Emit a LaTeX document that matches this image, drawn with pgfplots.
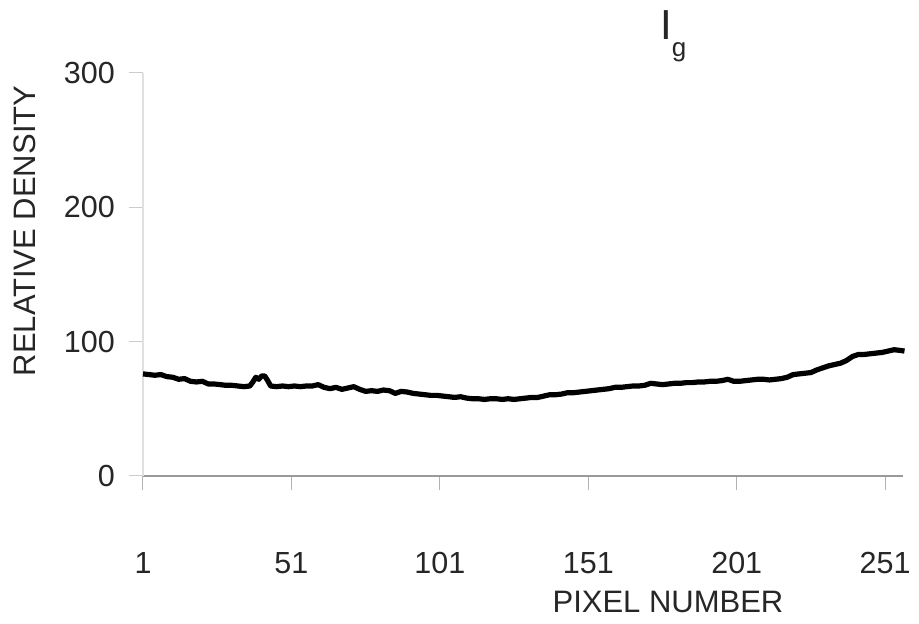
\documentclass[border=0pt]{standalone}
\usepackage{fontspec}
\setmainfont{Liberation Sans}
\usepackage{pgfplots}
\pgfplotsset{compat=1.18}
\pgfplotstableread{
x y
1 76
3 75.5
5 75
7 75.5
9 74
11 73.5
13 72
15 72.5
17 70.5
19 70
21 70.5
23 68.5
25 68.5
27 68
29 67.5
31 67.5
33 67
35 66.5
37 67
38 70
39 73.5
40 72
41 74.5
42 74.5
43 71
44 67
46 66.5
48 67
50 66.5
52 67
54 66.5
56 67
58 67
60 68
62 66
64 65
66 66
68 64.5
70 65.5
72 66.5
74 64.5
76 63
78 63.5
80 63
82 64
84 63.5
86 61.5
88 63
90 62.5
92 61.5
94 61
96 60.5
98 60
100 60
102 59.5
104 59
106 58.5
108 59
110 58
112 57.5
114 57.5
116 57
118 57.5
120 57.5
122 57
124 57.5
126 57
128 57.5
130 58
132 58.5
134 58.5
136 59.5
138 60.5
140 60.5
142 61
144 62
146 62
148 62.5
150 63
152 63.5
154 64
156 64.5
158 65
160 66
162 66
164 66.5
166 67
168 67
170 67.5
172 69
174 68.5
176 68
178 68.5
180 69
182 69
184 69.5
186 69.5
188 70
190 70
192 70.5
194 70.5
196 71
198 72
200 70.5
202 70.5
204 71
206 71.5
208 72
210 72
212 71.5
214 72
216 72.5
218 73.5
220 75.5
222 76
224 76.5
226 77
228 79
230 80.5
232 82
234 83
236 84
238 86
240 89
242 90.5
244 90.5
246 91
248 91.5
250 92
252 93
254 94
256 93.5
257.5 93
}\density
\begin{document}
\fontsize{30}{36}\selectfont
\begin{tikzpicture}
\path[use as bounding box] (0,0) rectangle (919pt,624pt);
\begin{axis}[
  at={(143pt,148pt)}, anchor=south west,
  scale only axis, width=760pt, height=403pt,
  xmin=1, xmax=257, ymin=0, ymax=300,
  clip=false,
  axis x line=bottom, axis y line=left,
  x axis line style={-, draw=black!40, line width=1.2pt},
  y axis line style={-, draw=black!12, line width=1.2pt},
  xtick={1,51,101,151,201,251}, ytick={0,100,200,300},
  tick align=outside, major tick length=14pt,
  x tick style={draw=black!30, line width=1pt},
  y tick style={draw=black!20, line width=1pt},
  yticklabel style={font=\fontsize{30.5}{36}\selectfont, text=black!85, xshift=-4pt},
  xticklabel style={font=\fontsize{30.5}{36}\selectfont, text=black!85, yshift=-52pt},
  /pgf/number format/assume math mode=true,
]
\addplot[black, line width=5.2pt, line join=round, no marks] table {\density};
\end{axis}
\node[anchor=base, text=black!85, font=\fontsize{31}{36}\selectfont] at (668pt,11pt) {PIXEL NUMBER};
\node[rotate=90, anchor=base, text=black!85, font=\fontsize{31}{36}\selectfont] at (35pt,393pt) {RELATIVE DENSITY};
\node[anchor=base west, inner sep=0pt, text=black!85] at (660pt,584pt) {\fontsize{42}{42}\selectfont I\raisebox{-17pt}{\fontsize{26}{26}\selectfont g}};
\end{tikzpicture}
\end{document}
